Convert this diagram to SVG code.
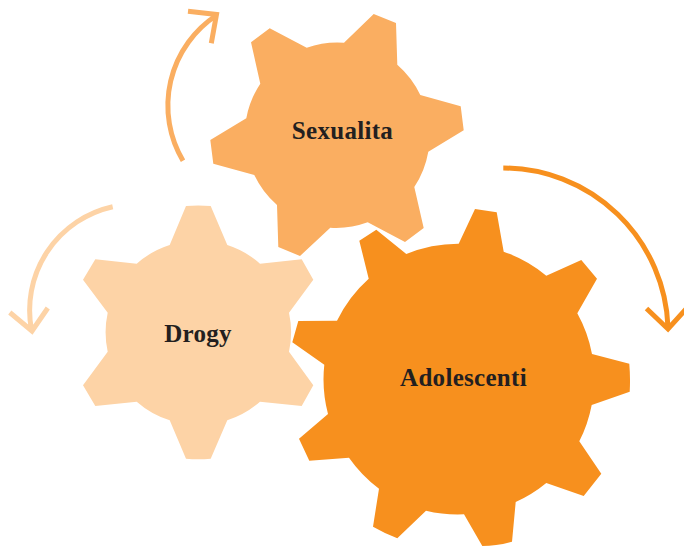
<svg xmlns="http://www.w3.org/2000/svg" width="684" height="546" viewBox="0 0 684 546">
<style>
.lbl{font-family:"Liberation Serif",serif;font-weight:bold;font-size:25px;letter-spacing:.3px;fill:#231f20;text-anchor:middle}
.arr{fill:none;stroke-width:5;stroke-miterlimit:10}
</style>
<rect width="684" height="546" fill="#ffffff"/>
<g id="node-sexualita">
<path fill="#faae61" d="M251 42.3L269.7 28.3L306.7 47.7A92.4 92.4 0 0 1 344 42.7L373.7 14L396 23L397.3 64.7A92.4 92.4 0 0 1 420.3 95L460.7 106.3L463.7 130.3L428.3 151.7A92.4 92.4 0 0 1 414.3 187L423.7 228L405 242L367.7 222.3A92.4 92.4 0 0 1 330.3 227.7L300 256L278.3 247L277 205A92.4 92.4 0 0 1 254.3 175L213.3 163.7L210.3 140L246.3 118.3A92.4 92.4 0 0 1 260.3 83.7Z"/>
<text class="lbl" x="342.5" y="139">Sexualita</text>
</g>
<g id="node-drogy">
<path fill="#fdd3a6" d="M186 206Q198 204.800 210.700 206L227.300 245A92 92 0 0 1 260 263.700L301.700 259.300L313.300 279.700L289 312.700A92 92 0 0 1 289 351.700L313.300 385.300L301.700 406L260 401.700A92 92 0 0 1 227.300 420.300L210.700 458.700Q198 459.800 186 458.700L169.700 420.300A92 92 0 0 1 136.700 401.700L95.300 406L83 385.300L107.700 351.700A92 92 0 0 1 107.700 312.700L83 279.700L95.300 259.300L136.700 263.700A92 92 0 0 1 169.700 245Z"/>
<text class="lbl" x="198" y="342">Drogy</text>
</g>
<g id="node-adolescenti">
<path fill="#f7901e" d="M475 209L496.700 212.300L503.700 251.700A136 136 0 0 1 546.300 275.700L581.300 260L597 278.700L577.300 313.300A136 136 0 0 1 592 354L629.300 363.700Q630.500 378 629.700 391.700L591.700 405A136 136 0 0 1 579.300 441.300L601.300 473.700L583.700 496L546.300 483A136 136 0 0 1 515.700 502L512 541.700Q497 546 482.300 546L464 514.300A136 136 0 0 1 426 510.700L397.300 538.300Q384 533 373 526.700L379 488.700A136 136 0 0 1 349 457.700L309.300 460.700L299 438.700L328 414A136 136 0 0 1 324.300 364.700L292.300 342.300L298.300 321L337 320.700A136 136 0 0 1 368.700 278.700L359.300 240.700L376.300 229.700L406.300 254A136 136 0 0 1 458.700 243.700Z"/>
<text class="lbl" x="463.500" y="386">Adolescenti</text>
</g>
<g id="connectors">
<path class="arr" stroke="#faae61" d="M183 160.700A108 108 0 0 1 217 15M188 11.300L216.500 14.500L211.300 43.300"/>
<path class="arr" stroke="#fdd3a6" d="M112.700 206.700A106 106 0 0 0 31.500 330M9.800 312.500L32 331L47.800 308"/>
<path class="arr" stroke="#f7901e" d="M503.300 168A165 165 0 0 1 668 327M646.500 308.500L668 329L686 309"/>
</g>
</svg>
